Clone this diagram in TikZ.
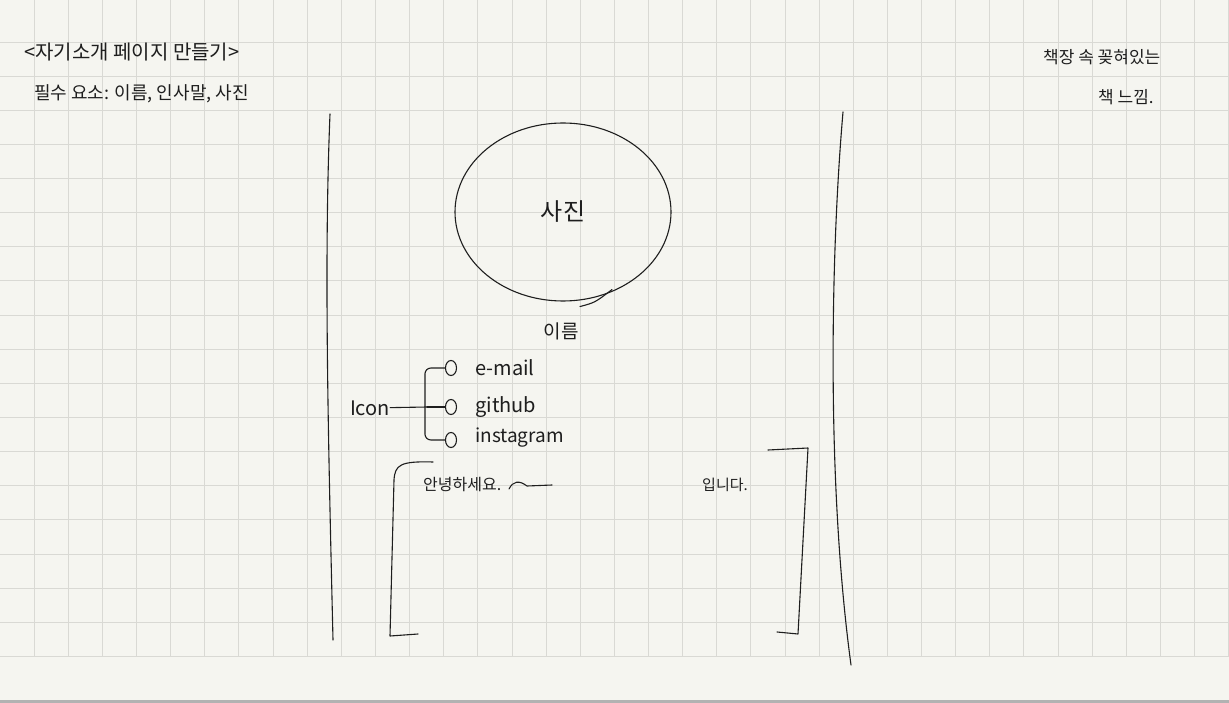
\documentclass[tikz,border=0pt]{standalone}
\usepackage{fontspec}
\newfontfamily\hand{Noto Sans CJK KR}
\usetikzlibrary{calc}
\usetikzlibrary{positioning}
\usetikzlibrary{shapes.geometric}
\definecolor{paper}{HTML}{F5F5F0}
\definecolor{ruleline}{HTML}{D9D9D4}
\definecolor{ink}{HTML}{1E1E1E}

\begin{document}
\begin{tikzpicture}[x=1pt,y=-1pt,
        pen/.style={draw=ink, line width=1.1pt, line cap=round, line join=round},
        ruling/.style={draw=ruleline, line width=0.9pt},
        note/.style={text=ink, inner sep=0pt, font=\hand\fontsize{#1}{#1}\selectfont},
        ring/.style={pen, ellipse, inner sep=0pt, minimum width=11pt, minimum height=15pt}]
            \def\g{34.13}
            \useasboundingbox (0,0) rectangle (1229,703);
            \fill[paper] (0,0) rectangle (1229,703);

            % Paper grid
            \foreach \i in {1,...,36}
                \draw[ruling] ({\i*\g},0) -- ({\i*\g},656.5);
            \foreach \j in {0,...,18}
                \draw[ruling] (0,{42+\j*\g}) -- (1229,{42+\j*\g});
            \fill[gray!60] (0,700) rectangle (1229,703);

            % Notes at the top
            \node[note=20, anchor=west] (title) at (24,52) {<자기소개 페이지 만들기>};
            \node[note=18, anchor=west] (must) at ($(title.west) + (10,42)$) {필수 요소: 이름, 인사말, 사진};
            \node[note=17, anchor=west] (shelf) at (1043,57) {책장 속 꽂혀있는};
            \node[note=17, anchor=west] (feel) at ($(shelf.west) + (55,40)$) {책 느낌.};

            % Shelf sides
            \draw[pen] (330,114) .. controls (324,260) and (328,430) .. (333,640);
            \draw[pen] (843,112) .. controls (831,250) and (826,480) .. (851,665);

            % Photo and name
            \node[pen, ellipse, minimum width=216pt, minimum height=178pt, note=24] (photo) at (563,212) {사진};
            \draw[pen] ($(photo.south) + (17,5)$) .. controls ($(photo.south) + (32,1)$) .. ($(photo.south) + (49,-12)$);
            \node[note=19] (name) at ($(photo.south) + (-2,30)$) {이름};

            % Icons
            \node[note=20] (icon) at (370,408) {Icon};
            \coordinate (fork) at (427,407);
            \node[ring] (mailo) at (451,368) {};
            \node[ring] (gito) at (451,407) {};
            \node[ring] (insto) at (451,440) {};
            \node[note=20, anchor=west] (mail) at ($(mailo.east) + (18,0)$) {e-mail};
            \node[note=20, anchor=west] (git) at ($(gito.east) + (18,0)$) {github};
            \node[note=19, anchor=west] (insta) at ($(insto.east) + (18,-2)$) {instagram};
            \draw[pen] (icon) -- (fork);
            \draw[pen] (fork) -- (gito);
            \draw[pen, rounded corners=6pt] (mailo.west) -| ($(insto.west) + (-20,0)$) -- (insto.west);

            % Greeting box
            \node[note=16, anchor=west] (hello) at (423,485) {안녕하세요.};
            \node[note=15, anchor=west] (ending) at (702,485) {입니다.};
            \draw[pen] (509,489) .. controls (513,481) and (519,480) .. (527,486) -- (552,485);
            \draw[pen] (433,462) .. controls (400,461) and (395,465) .. (394,480) -- (390,636) -- (418,634);
            \draw[pen] (768,450) -- (808,448) -- (798,634) -- (777,632);
\end{tikzpicture}
\end{document}
